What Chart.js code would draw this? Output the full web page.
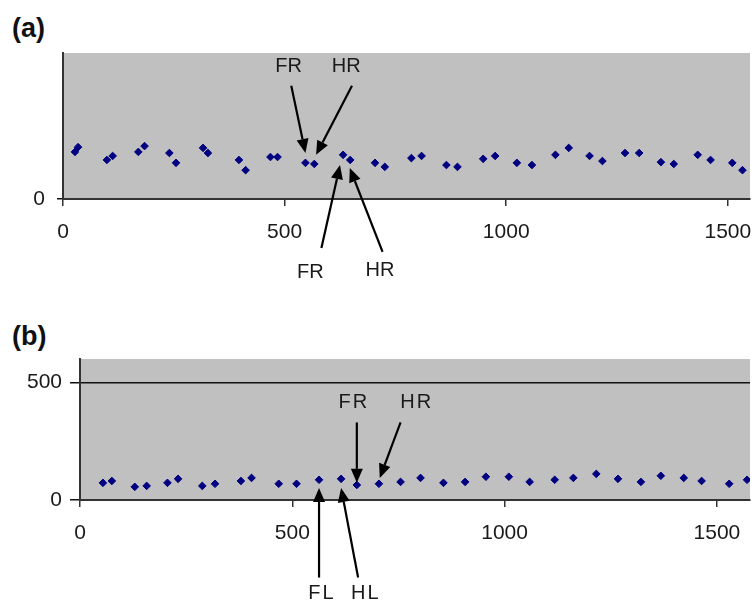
<!DOCTYPE html>
<html>
<head>
<meta charset="utf-8">
<script src="https://cdn.jsdelivr.net/npm/chart.js@4.4.0/dist/chart.umd.min.js"></script>
<style>
  body { margin: 0; background: #fff; width: 755px; height: 601px; overflow: hidden; position: relative;
         font-family: "Liberation Sans", Arial, sans-serif; }
  canvas { position: absolute; left: 0; }
  .tag { position: absolute; left: 12px; font-weight: bold; font-size: 27px; line-height: 1; color: #111; }
</style>
</head>
<body>
<div class="tag" style="top:15px">(a)</div>
<div class="tag" style="top:323px">(b)</div>
<canvas id="chartA" width="755" height="290" style="top:0"></canvas>
<canvas id="chartB" width="755" height="301" style="top:300px"></canvas>
<script>
// panel (a) values
const xA = [27, 34, 99, 112, 170, 184, 240, 255, 316, 327, 397, 412, 468, 484, 547, 567, 632, 648, 704, 726,
            786, 809, 865, 890, 948, 975, 1024, 1058, 1111, 1141, 1188, 1217, 1268, 1300, 1349, 1378, 1432, 1461, 1510, 1533];
const yA = [129, 142, 107, 118, 129, 145, 126, 99, 140, 126, 107, 79, 115, 115, 99, 96, 121, 107, 99, 88,
            112, 118, 93, 88, 110, 118, 99, 93, 121, 140, 118, 104, 126, 126, 101, 96, 121, 107, 99, 79];

// panel (b) values
const xB = [54, 75, 129, 157, 206, 231, 288, 318, 379, 404, 468, 510, 563, 615, 652, 704, 755, 802, 856, 907,
            956, 1010, 1059, 1118, 1162, 1216, 1267, 1321, 1368, 1422, 1464, 1529, 1571];
const yB = [73, 81, 56, 60, 73, 90, 60, 69, 81, 94, 69, 69, 86, 90, 64, 69, 77, 94, 73, 77,
            99, 99, 77, 86, 94, 111, 90, 77, 103, 94, 81, 69, 86];

const xTicks = [0, 500, 1000, 1500];
const yTicksA = [0];
const yTicksB = [0, 500];

// labels with arrows, in data units (text spot, arrow tail, arrow tip)
const notesA = [
  { text: 'FR', tx: 509, ty: 362, x1: 515, y1: 310, x2: 547, y2: 126 },
  { text: 'HR', tx: 639, ty: 362, x1: 652, y1: 310, x2: 571, y2: 121 },
  { text: 'FR', tx: 558, ty: -200, x1: 583, y1: -134, x2: 625, y2: 93 },
  { text: 'HR', tx: 715, ty: -195, x1: 721, y1: -145, x2: 647, y2: 85 }
];
const notesB = [
  { text: 'FR', tx: 645, ty: 416, x1: 652, y1: 330, x2: 652, y2: 73 },
  { text: 'HR', tx: 793, ty: 416, x1: 755, y1: 330, x2: 706, y2: 94 },
  { text: 'FL', tx: 570, ty: -399, x1: 563, y1: -330, x2: 563, y2: 51 },
  { text: 'HL', tx: 673, ty: -399, x1: 655, y1: -330, x2: 615, y2: 51 }
];

const greyArea = {
  id: 'greyArea',
  beforeDraw(chart) {
    const a = chart.chartArea, ctx = chart.ctx;
    ctx.save();
    ctx.fillStyle = '#c0c0c0';
    ctx.fillRect(a.left, a.top, a.right - a.left, a.bottom - a.top);
    ctx.restore();
  }
};

const arrows = {
  id: 'arrows',
  afterDraw(chart, args, opts) {
    const ctx = chart.ctx, sx = chart.scales.x, sy = chart.scales.y;
    ctx.save();
    ctx.lineWidth = 2.2;
    (opts.notes || []).forEach(n => {
      const x1 = sx.getPixelForValue(n.x1), y1 = sy.getPixelForValue(n.y1);
      const x2 = sx.getPixelForValue(n.x2), y2 = sy.getPixelForValue(n.y2);
      const ang = Math.atan2(y2 - y1, x2 - x1);
      const len = 14, half = 6;
      const bx = x2 - len * Math.cos(ang), by = y2 - len * Math.sin(ang);
      ctx.strokeStyle = '#000';
      ctx.fillStyle = '#000';
      ctx.beginPath();
      ctx.moveTo(x1, y1);
      ctx.lineTo(bx, by);
      ctx.stroke();
      ctx.beginPath();
      ctx.moveTo(x2, y2);
      ctx.lineTo(bx + half * Math.sin(ang), by - half * Math.cos(ang));
      ctx.lineTo(bx - half * Math.sin(ang), by + half * Math.cos(ang));
      ctx.closePath();
      ctx.fill();
      ctx.font = '20px "Liberation Sans", Arial, sans-serif';
      ctx.letterSpacing = opts.spacing || '0px';
      ctx.fillStyle = '#1a1a1a';
      ctx.textAlign = 'center';
      ctx.textBaseline = 'middle';
      ctx.fillText(n.text, sx.getPixelForValue(n.tx), sy.getPixelForValue(n.ty));
    });
    ctx.restore();
  }
};

function makeChart(id, xs, ys, cfg) {
  const pts = xs.map((x, i) => ({ x: x, y: ys[i] }));
  return new Chart(document.getElementById(id), {
    type: 'scatter',
    data: {
      datasets: [{
        data: pts,
        pointStyle: 'rectRot',
        pointRadius: 3.8,
        backgroundColor: '#000080',
        borderColor: '#000080',
        borderWidth: 1
      }]
    },
    plugins: [greyArea, arrows],
    options: {
      responsive: false,
      animation: false,
      layout: { padding: { top: cfg.top, right: 0, left: 0, bottom: 0 } },
      plugins: { legend: { display: false }, tooltip: { enabled: false }, arrows: { notes: cfg.notes, spacing: cfg.spacing } },
      scales: {
        x: {
          type: 'linear', min: 0, max: cfg.xMax,
          afterBuildTicks: s => { s.ticks = xTicks.map(v => ({ value: v })); },
          afterFit: s => { s.height = cfg.xHeight; s.paddingLeft = 0; s.paddingRight = 0; },
          border: { display: true, color: '#333', width: 2 },
          grid: { drawOnChartArea: false, drawTicks: true, tickLength: 7, color: '#333', lineWidth: 1.5 },
          ticks: { color: '#1a1a1a', padding: 14, maxRotation: 0, autoSkip: false,
                   callback: v => String(v),
                   font: { size: 21, family: '"Liberation Sans", Arial, sans-serif' } }
        },
        y: {
          type: 'linear', min: 0, max: cfg.yMax,
          afterBuildTicks: s => { s.ticks = cfg.yTicks.map(v => ({ value: v })); },
          afterFit: s => { s.width = cfg.yWidth; s.paddingTop = 0; s.paddingBottom = 0; },
          border: { display: true, color: '#333', width: 2 },
          grid: { drawOnChartArea: cfg.yGrid, drawTicks: true, tickLength: cfg.yTick, color: '#111', lineWidth: 1.5 },
          ticks: { color: '#1a1a1a', padding: cfg.yPad, callback: v => String(v),
                   font: { size: 21, family: '"Liberation Sans", Arial, sans-serif' } }
        }
      }
    }
  });
}

makeChart('chartA', xA, yA, { top: 53, xMax: 1550, yMax: 400, xHeight: 91, yWidth: 63, yTicks: yTicksA,
                             yGrid: false, yTick: 6, yPad: 12, notes: notesA, spacing: '0px' });
makeChart('chartB', xB, yB, { top: 59, xMax: 1578, yMax: 600, xHeight: 101, yWidth: 80, yTicks: yTicksB,
                             yGrid: true, yTick: 10, yPad: 8, notes: notesB, spacing: '2px' });
</script>
</body>
</html>
